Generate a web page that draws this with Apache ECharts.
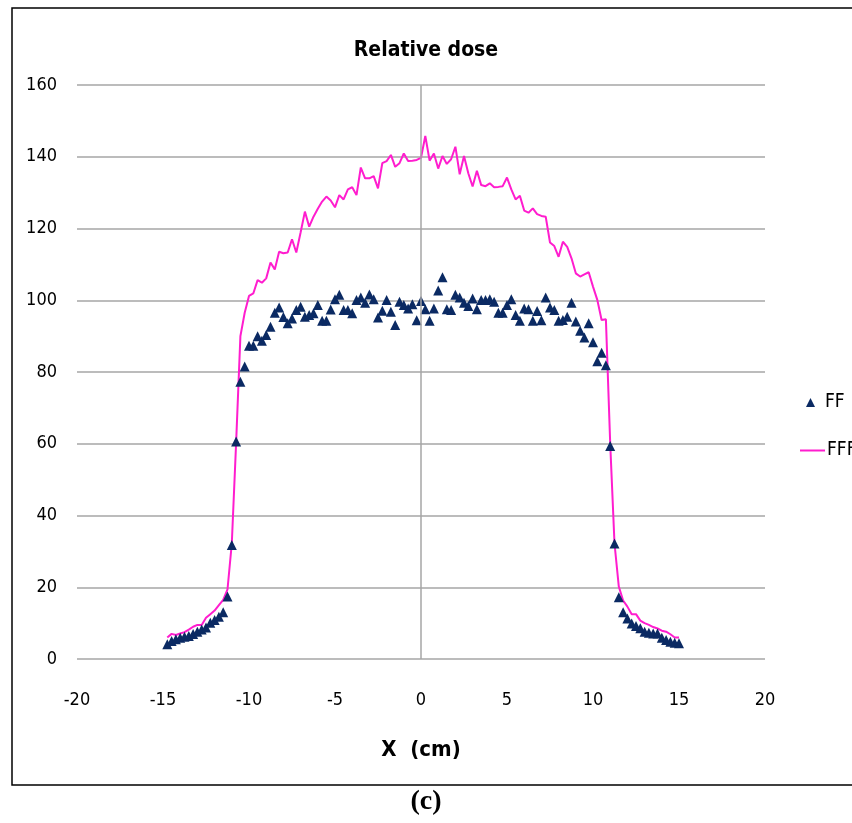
<!DOCTYPE html>
<html>
<head>
<meta charset="utf-8">
<script src="https://cdn.jsdelivr.net/npm/echarts@6/dist/echarts.min.js"></script>
<style>
html,body{margin:0;padding:0;background:#fff;}
#c{width:852px;height:823px;}
</style>
</head>
<body>
<div id="c"></div>
<script>
var titleText = 'Relative dose';
var xAxisName = 'X  (cm)';
var caption = '(c)';

var ffX = [-14.75,-14.5,-14.25,-14,-13.75,-13.5,-13.25,-13,-12.75,-12.5,-12.25,-12,-11.75,-11.5,-11.25,-11,-10.75,-10.5,-10.25,-10,
  -9.75,-9.5,-9.25,-9,-8.75,-8.5,-8.25,-8,-7.75,-7.5,-7.25,-7,-6.75,-6.5,-6.25,-6,-5.75,-5.5,-5.25,-5,
  -4.75,-4.5,-4.25,-4,-3.75,-3.5,-3.25,-3,-2.75,-2.5,-2.25,-2,-1.75,-1.5,-1.25,-1,-0.75,-0.5,-0.25,0,
  0.25,0.5,0.75,1,1.25,1.5,1.75,2,2.25,2.5,2.75,3,3.25,3.5,3.75,4,4.25,4.5,4.75,5,
  5.25,5.5,5.75,6,6.25,6.5,6.75,7,7.25,7.5,7.75,8,8.25,8.5,8.75,9,9.25,9.5,9.75,10,
  10.25,10.5,10.75,11,11.25,11.5,11.75,12,12.25,12.5,12.75,13,13.25,13.5,13.75,14,14.25,14.5,14.75,15];
var ffY = [4.1,5.0,5.5,5.9,6.2,6.4,7.0,7.6,8.2,8.8,10.1,10.9,11.8,13.0,17.4,31.8,60.6,77.3,81.5,87.3,
  87.3,90.0,88.7,90.3,92.6,96.5,98.0,95.3,93.6,94.9,97.3,98.2,95.4,95.9,96.4,98.7,94.3,94.3,97.4,100.3,
  101.5,97.3,97.3,96.4,100.1,100.8,99.3,101.6,100.3,95.2,97.1,100.1,96.8,93.1,99.6,98.7,97.7,98.9,94.4,99.8,
  97.5,94.3,97.7,102.7,106.4,97.5,97.3,101.5,100.8,99.3,98.4,100.5,97.5,100.1,100.1,100.3,99.6,96.5,96.5,98.7,
  100.3,95.9,94.3,97.7,97.5,94.3,97.0,94.4,100.8,98.0,97.3,94.3,94.5,95.4,99.3,94.1,91.5,89.6,93.6,88.3,
  83.0,85.4,81.9,59.4,32.2,17.2,13.0,11.3,9.9,9.2,8.6,7.6,7.3,7.1,7.1,5.9,5.3,4.8,4.5,4.4];

var fffX = ffX;
var fffY = [6.0,7.0,6.7,7.1,7.5,8.2,9.0,9.5,9.5,11.5,12.5,13.5,15.0,16.5,19.4,32.2,60.1,90.0,96.5,101.2,
  101.9,105.6,104.9,106.1,110.5,108.6,113.5,113.1,113.3,117.0,113.3,118.9,124.7,120.5,123.3,125.5,127.5,128.9,127.8,125.9,
  129.3,128.1,130.9,131.5,129.3,137.0,134.0,134.0,134.6,131.2,138.2,138.8,140.5,137.2,138.2,140.9,138.8,138.9,139.1,139.7,
  145.8,138.9,140.9,136.7,140.2,138.0,139.3,142.8,135.1,140.2,135.4,131.7,136.1,132.1,131.8,132.6,131.5,131.6,131.8,134.2,
  130.9,128.1,129.1,125.0,124.4,125.6,124.0,123.5,123.3,116.1,115.1,112.1,116.3,114.9,111.7,107.5,106.6,107.2,107.8,103.8,
  100.1,94.5,94.7,60.1,32.2,20.2,16.3,14.6,12.5,12.5,10.7,10.0,9.5,8.9,8.5,7.9,7.6,6.9,6.0,6.0];

function pairs(xs, ys){ return xs.map(function(x,i){ return [x, ys[i]]; }); }

var font = "'DejaVu Sans Condensed','Liberation Sans Narrow',sans-serif";
var chart = echarts.init(document.getElementById('c'), null, {renderer:'canvas'});
chart.setOption({
  animation:false,
  backgroundColor:'#fff',
  title:{text:titleText, left:421, top:35, textAlign:'center',
    textStyle:{fontFamily:font, fontWeight:'bold', fontSize:21, color:'#000'}},
  grid:{left:77, right:87, top:85, bottom:164},
  legend:[
    {orient:'vertical', left:801, top:388, itemWidth:9, itemHeight:9, icon:'triangle',
     textStyle:{fontFamily:font, fontSize:19, color:'#000', padding:[0,0,0,5]},
     data:['FF']},
    {orient:'vertical', left:794, top:436, itemWidth:25, itemHeight:12,
     textStyle:{fontFamily:font, fontSize:19, color:'#000', padding:[0,0,0,-3]},
     data:[{name:'FFF', itemStyle:{opacity:0}}]}
  ],
  xAxis:{type:'value', min:-20, max:20, interval:5,
    name:xAxisName, nameLocation:'middle', nameGap:80,
    nameTextStyle:{fontFamily:font, fontWeight:'bold', fontSize:22, color:'#000'},
    axisLine:{show:false}, axisTick:{show:false}, splitLine:{show:false},
    axisLabel:{fontFamily:font, fontSize:18, color:'#000', margin:32}},
  yAxis:{type:'value', min:0, max:160, interval:20,
    axisLine:{show:false}, axisTick:{show:false},
    splitLine:{show:true, lineStyle:{color:'#a6a6a6', width:1.5}},
    axisLabel:{fontFamily:font, fontSize:18, color:'#000', margin:20}},
  series:[
    {name:'FFF', type:'line', data:pairs(fffX, fffY), symbol:'none', showSymbol:false,
     lineStyle:{color:'#ff1dce', width:2}, itemStyle:{color:'#ff1dce'}, z:2,
     markLine:{silent:true, symbol:'none', label:{show:false},
       lineStyle:{color:'#a6a6a6', width:1.5, type:'solid'}, data:[{xAxis:0}]}},
    {name:'FF', type:'scatter', data:pairs(ffX, ffY), symbol:'triangle', symbolSize:[10,10],
     itemStyle:{color:'#0b2a63', opacity:1}, z:3}
  ],
  graphic:[
    {type:'rect', shape:{x:12, y:8, width:846, height:777}, style:{fill:'none', stroke:'#000', lineWidth:1.5}, silent:true},
    {type:'text', left:'center', top:788, style:{text:caption, fontFamily:"'Liberation Serif','DejaVu Serif',serif", fontWeight:'bold', fontSize:28, fill:'#000'}}
  ]
});
</script>
</body>
</html>
